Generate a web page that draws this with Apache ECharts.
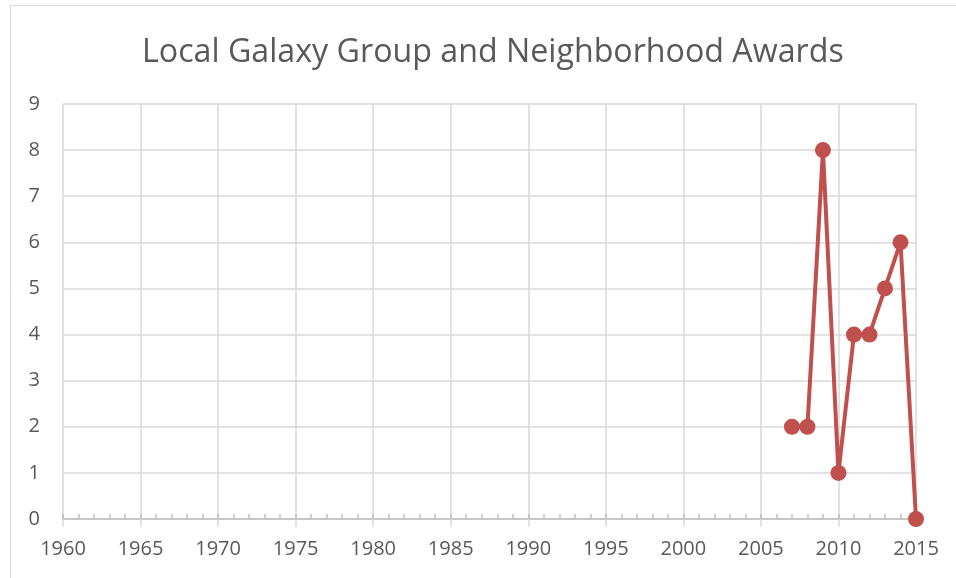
<!DOCTYPE html>
<html>
<head>
<meta charset="utf-8">
<script src="https://cdn.jsdelivr.net/npm/echarts@6/dist/echarts.min.js"></script>
<style>
  html, body { margin: 0; padding: 0; background: #fff; }
  #chart { width: 956px; height: 578px; }
</style>
</head>
<body>
<div id="chart"></div>
<script>
// 数据
var years = [2007, 2008, 2009, 2010, 2011, 2012, 2013, 2014, 2015];
var awards = [2, 2, 8, 1, 4, 4, 5, 6, 0];
var xMin = 1960, xMax = 2015, xStep = 5;
var yMin = 0, yMax = 9, yStep = 1;
var titleText = 'Local Galaxy Group and Neighborhood Awards';

var points = [];
for (var i = 0; i < years.length; i++) {
  points.push([years[i], awards[i]]);
}

var font = 'Open Sans';
var textColor = '#595959';
var gridColor = '#d9d9d9';

var chart = echarts.init(document.getElementById('chart'));
chart.setOption({
  animation: false,
  title: {
    text: titleText,
    left: 137,
    top: 32,
    textStyle: { fontFamily: font, fontSize: 32.2, fontWeight: 'normal', color: textColor }
  },
  graphic: [{
    type: 'rect',
    shape: { x: 10.5, y: 5.5, width: 960, height: 600 },
    style: { fill: 'none', stroke: gridColor, lineWidth: 1 },
    silent: true
  }],
  grid: { left: 63, right: 40, top: 104, bottom: 59 },
  xAxis: [{
    type: 'value',
    min: xMin, max: xMax, interval: xStep,
    position: 'bottom',
    axisLine: { show: true, lineStyle: { color: '#bfbfbf', width: 1.5 } },
    axisTick: { show: true, inside: true, length: 5, lineStyle: { color: '#bfbfbf', width: 1.5 } },
    minorTick: { show: true, splitNumber: 5, length: 5, lineStyle: { color: '#bfbfbf', width: 1.5 } },
    axisLabel: {
      fontFamily: font, fontSize: 20, color: textColor, margin: 20,
      formatter: function (v) { return String(v); }   // 不要千分位
    },
    splitLine: { show: true, lineStyle: { color: gridColor, width: 1.5 } }
  }, {
    type: 'value',
    min: xMin, max: xMax, interval: xStep,
    position: 'bottom',
    offset: 0,
    axisLine: { show: false },
    axisTick: { show: true, length: 8, lineStyle: { color: gridColor, width: 1.5 } },
    axisLabel: { show: false },
    splitLine: { show: false }
  }],
  yAxis: {
    type: 'value',
    min: yMin, max: yMax, interval: yStep,
    axisLine: { show: false },
    axisTick: { show: false },
    axisLabel: { fontFamily: font, fontSize: 20, color: textColor, margin: 23 },
    splitLine: { show: true, lineStyle: { color: gridColor, width: 1.5 } }
  },
  series: [{
    type: 'line',
    data: points,
    symbol: 'circle',
    symbolSize: 16,
    lineStyle: { color: '#c0504d', width: 4 },
    itemStyle: { color: '#c0504d' }
  }]
});
</script>
</body>
</html>
